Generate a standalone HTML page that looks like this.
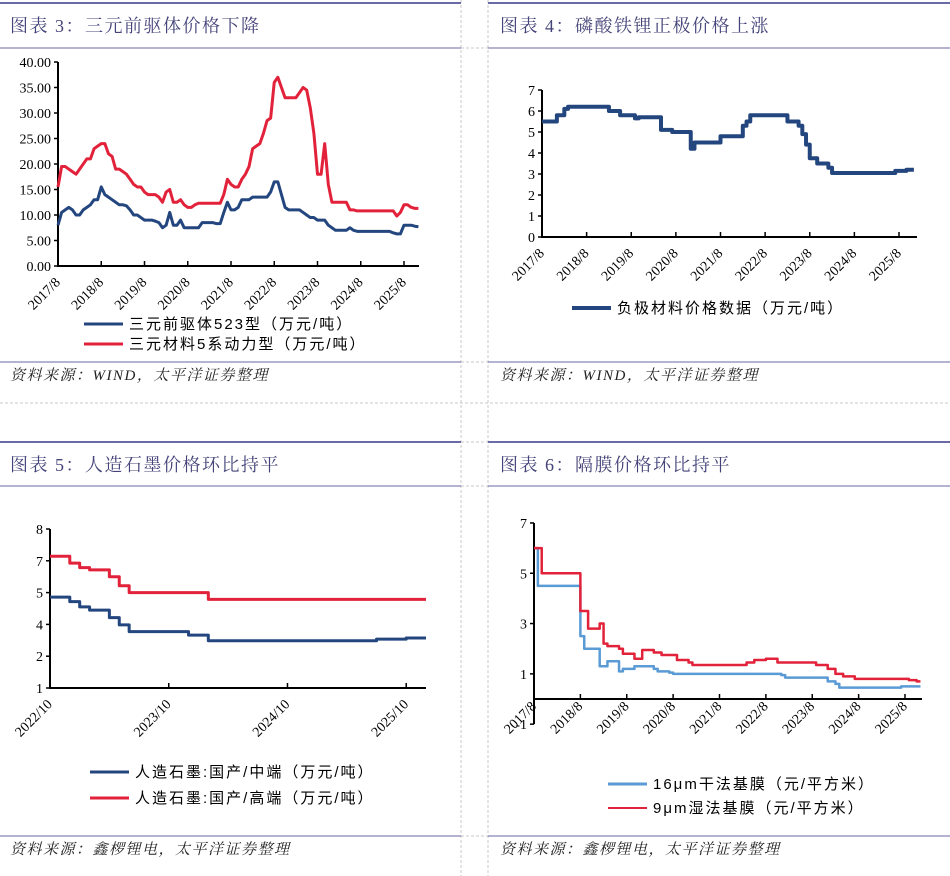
<!DOCTYPE html>
<html><head><meta charset="utf-8"><style>
body{margin:0;background:#fff;}
svg{display:block;font-family:"Liberation Serif","Noto Serif CJK SC",serif;}
.ttl{font-family:"Liberation Serif","Noto Serif CJK SC",serif;font-size:18px;letter-spacing:1.5px;fill:#44447a;}
.src{font-family:"Liberation Serif","Noto Serif CJK SC",serif;font-size:15px;letter-spacing:1.5px;font-style:italic;fill:#222;}
.tk{font-size:14px;fill:#000;}
.lg{font-family:"Liberation Sans","Noto Sans CJK SC",sans-serif;font-size:15px;letter-spacing:2px;fill:#000;}
</style></head><body>
<svg id="s" width="950" height="876" viewBox="0 0 950 876" xmlns="http://www.w3.org/2000/svg">
<g stroke-width="1">
<line x1="461" y1="0" x2="461" y2="876" stroke="#c8c8c8" stroke-dasharray="3,2"/>
<line x1="488" y1="0" x2="488" y2="876" stroke="#c8c8c8" stroke-dasharray="3,2"/>
<line x1="0" y1="403" x2="950" y2="403" stroke="#c8c8c8" stroke-dasharray="3,2"/>
<line x1="461" y1="48" x2="488" y2="48" stroke="#c8c8c8" stroke-dasharray="3,2"/>
<line x1="461" y1="362" x2="488" y2="362" stroke="#c8c8c8" stroke-dasharray="3,2"/>
<line x1="461" y1="442" x2="488" y2="442" stroke="#c8c8c8" stroke-dasharray="3,2"/>
<line x1="461" y1="486" x2="488" y2="486" stroke="#c8c8c8" stroke-dasharray="3,2"/>
<line x1="461" y1="836" x2="488" y2="836" stroke="#c8c8c8" stroke-dasharray="3,2"/>
<line x1="0" y1="3" x2="461" y2="3" stroke="#6a6aa6" stroke-width="2"/>
<line x1="488" y1="3" x2="950" y2="3" stroke="#6a6aa6" stroke-width="2"/>
<line x1="0" y1="48" x2="461" y2="48" stroke="#6a6aa6"/>
<line x1="488" y1="48" x2="950" y2="48" stroke="#6a6aa6"/>
<line x1="0" y1="362" x2="461" y2="362" stroke="#6a6aa6"/>
<line x1="488" y1="362" x2="950" y2="362" stroke="#6a6aa6"/>
<line x1="0" y1="442" x2="461" y2="442" stroke="#6a6aa6" stroke-width="2"/>
<line x1="488" y1="442" x2="950" y2="442" stroke="#6a6aa6" stroke-width="2"/>
<line x1="0" y1="486" x2="461" y2="486" stroke="#6a6aa6"/>
<line x1="488" y1="486" x2="950" y2="486" stroke="#6a6aa6"/>
<line x1="0" y1="836" x2="461" y2="836" stroke="#6a6aa6"/>
<line x1="488" y1="836" x2="950" y2="836" stroke="#6a6aa6"/>
</g>
<text class="ttl" x="10" y="32">图表 3：三元前驱体价格下降</text>
<text class="ttl" x="500" y="32">图表 4：磷酸铁锂正极价格上涨</text>
<text class="ttl" x="10" y="471">图表 5：人造石墨价格环比持平</text>
<text class="ttl" x="500" y="471">图表 6：隔膜价格环比持平</text>
<text class="src" x="10" y="380">资料来源：WIND，太平洋证券整理</text>
<text class="src" x="500" y="380">资料来源：WIND，太平洋证券整理</text>
<text class="src" x="10" y="854">资料来源：鑫椤锂电，太平洋证券整理</text>
<text class="src" x="500" y="854">资料来源：鑫椤锂电，太平洋证券整理</text>
<g id="c3"></g>
<g id="c4"></g>
<g id="c5"></g>
<g id="c6"></g>
</svg>
<script>
// ---- Chart 3 data (monthly from 2017/8) ----
const c3Ticks = ["2017/8","2018/8","2019/8","2020/8","2021/8","2022/8","2023/8","2024/8","2025/8"];
const c3YTicks = ["0.00","5.00","10.00","15.00","20.00","25.00","30.00","35.00","40.00"];
const c3Precursor = [8,10.5,11,11.5,11,
 10,10,11,11.5,12,13,13,15.5,14,13.5,13,12.5,
 12,12,11.8,11,10,10,9.5,9,9,9,8.8,8.5,
 7.5,8,10.5,8,8,9,7.5,7.5,7.5,7.5,7.5,8.5,
 8.5,8.5,8.5,8.3,8.3,10.5,12.5,11,11,11.5,13,13,
 13,13.5,13.5,13.5,13.5,13.5,14.5,16.5,16.5,14,11.5,11,
 11,11,11,10.5,10,9.5,9.5,9,9,9,8,7.5,
 7,7,7,7,7.5,7,6.8,6.8,6.8,6.8,6.8,6.8,
 6.8,6.8,6.8,6.8,6.5,6.3,6.3,8,8,8,7.8,7.7];
const c3Cathode = [15.5,19.5,19.5,19,18.5,
 18,19,20,21,21,23,23.5,24,24,22,21.5,19,
 19,18.5,18,17,16,15.5,15.5,14.5,14,14,14,13.5,
 12.5,14.5,15,12.5,12.5,13,12,11.5,11.5,12,12.3,12.3,
 12.3,12.3,12.3,12.3,12.3,14,17,16,15.5,15.5,17,18,
 19.5,23,23.5,24,26,28.5,29,36,37,35,33,33,
 33,33,34,35,34.5,31,26,18,18,24,16,12.5,
 12.5,12.5,12.5,12.5,11,11,10.8,10.8,10.8,10.8,10.8,10.8,
 10.8,10.8,10.8,10.8,10.8,9.8,10.5,12,12,11.5,11.3,11.3];
// ---- Chart 4 data (monthly from 2017/8) ----
const c4Ticks = ["2017/8","2018/8","2019/8","2020/8","2021/8","2022/8","2023/8","2024/8","2025/8"];
const c4YTicks = ["0","1","2","3","4","5","6","7"];
const c4Lfp = [5.5,5.5,5.5,5.5,5.8,5.8,6.1,
 6.2,6.2,6.2,6.2,6.2,6.2,6.2,6.2,6.2,6.2,6.2,
 6.0,6.0,6.0,5.8,5.8,5.8,5.8,5.65,5.7,5.7,5.7,5.7,5.7,5.7,
 5.1,5.1,5.1,5.0,5.0,5.0,5.0,5.0,4.2,4.5,4.5,4.5,4.5,4.5,4.5,4.5,
 4.8,4.8,4.8,4.8,4.8,4.8,5.3,5.5,5.8,5.8,5.8,5.8,5.8,5.8,5.8,5.8,5.8,5.8,
 5.5,5.5,5.5,5.3,4.9,4.4,3.75,3.75,3.5,3.5,3.5,3.3,
 3.05,3.05,3.05,3.05,3.05,3.05,3.05,3.05,3.05,3.05,3.05,3.05,3.05,3.05,3.05,3.05,3.05,
 3.15,3.15,3.15,3.2,3.2,3.2];
// ---- Chart 5 data (monthly from 2022/10) ----
const c5Ticks = ["2022/10","2023/10","2024/10","2025/10"];
const c5YTicks = ["1","2","4","5","7","8"];
const c5Mid = [5.0,5.0,4.8,4.57,4.43,4.43,4.1,3.78,3.48,3.48,3.48,3.48,3.48,3.48,3.33,3.33,
 3.08,3.08,3.08,3.08,3.08,3.08,3.08,3.08,3.08,3.08,3.08,3.08,3.08,3.08,3.08,3.08,3.08,
 3.15,3.15,3.15,3.2,3.2,3.2];
const c5High = [6.8,6.8,6.5,6.3,6.2,6.2,5.9,5.5,5.2,5.2,5.2,5.2,5.2,5.2,5.2,5.2,
 4.9,4.9,4.9,4.9,4.9,4.9,4.9,4.9,4.9,4.9,4.9,4.9,4.9,4.9,4.9,4.9,4.9,4.9,4.9,4.9,4.9,4.9,4.9];
// ---- Chart 6 data (monthly from 2017/8) ----
const c6Ticks = ["2017/8","2018/8","2019/8","2020/8","2021/8","2022/8","2023/8","2024/8","2025/8"];
const c6YTicks = ["-1","1","3","5","7"];
const c6Dry = [6,4.5,4.5,4.5,4.5,4.5,4.5,4.5,4.5,4.5,4.5,4.5,
 2.5,2.0,2.0,2.0,2.0,1.3,1.3,1.5,1.5,1.5,1.1,1.2,1.2,1.2,1.3,1.3,1.3,1.3,1.3,1.2,1.1,1.1,1.1,1.05,
 1.0,1.0,1.0,1.0,1.0,1.0,1.0,1.0,1.0,1.0,1.0,1.0,1.0,1.0,1.0,1.0,1.0,1.0,1.0,1.0,1.0,1.0,1.0,1.0,1.0,1.0,1.0,1.0,
 0.95,0.85,0.85,0.85,0.85,0.85,0.85,0.85,0.85,0.85,0.85,0.85,0.7,0.7,0.6,
 0.45,0.45,0.45,0.45,0.45,0.45,0.45,0.45,0.45,0.45,0.45,0.45,0.45,0.45,0.45,0.45,
 0.5,0.5,0.5,0.5,0.5,0.5];
const c6Wet = [6,6,5,5,5,5,5,5,5,5,5,5,
 3.5,3.5,2.8,2.8,2.8,3.0,2.2,2.1,2.1,2.1,2.0,1.8,1.8,1.8,1.6,1.6,1.95,1.95,1.95,1.85,1.85,1.75,1.75,1.75,1.75,
 1.55,1.55,1.55,1.45,1.35,1.35,1.35,1.35,1.35,1.35,1.35,1.35,1.35,1.35,1.35,1.35,1.35,1.35,1.45,1.45,
 1.55,1.55,1.55,1.6,1.6,1.6,1.45,1.45,1.45,1.45,1.45,1.45,1.45,1.45,1.45,1.45,
 1.35,1.35,1.35,1.2,1.2,1.0,1.0,0.9,0.9,0.9,
 0.8,0.8,0.8,0.8,0.8,0.8,0.8,0.8,0.8,0.8,0.8,0.8,0.8,0.8,0.75,0.75,0.7,0.7];

const NS="http://www.w3.org/2000/svg";
function mk(parent,tag,attrs){const e=document.createElementNS(NS,tag);for(const k in attrs)e.setAttribute(k,attrs[k]);parent.appendChild(e);return e;}

function axes(g,o){
  const ya=mk(g,"line",{x1:o.x0,y1:o.yTop,x2:o.x0,y2:o.yBot,stroke:"#000","stroke-width":2});
  
  
  const xa=mk(g,"line",{x1:o.x0-1,y1:o.xAxisY,x2:o.x1,y2:o.xAxisY,stroke:"#000","stroke-width":2});
  
  
  o.yLabels.forEach((lab,i)=>{
    const y=o.yPos(i);
    mk(g,"line",{x1:o.x0-4,y1:y,x2:o.x0,y2:y,stroke:"#000","stroke-width":1.5});
    const t=mk(g,"text",{x:o.x0-7,y:y+5,"text-anchor":"end",class:"tk"});
    t.textContent=lab;
    
    
  });
  o.xLabels.forEach((lab,i)=>{
    const x=o.xPos(i);
    mk(g,"line",{x1:x,y1:o.xAxisY,x2:x,y2:o.xAxisY-5,stroke:"#000","stroke-width":1.5});
    const t=mk(g,"text",{x:0,y:0,"text-anchor":"end",class:"tk",transform:`translate(${x+3},${o.xAxisY+o.lblDy}) rotate(-45)`});
    t.textContent=lab;
    
    
  });
}
function series(g,vals,xf,yf,color,w,step,name){
  let d="";
  vals.forEach((v,i)=>{
    const x=xf(i),y=yf(v);
    if(i===0)d+=`M${x},${y}`;
    else if(step)d+=`H${x}V${y}`;
    else d+=`L${x},${y}`;
  });
  const p=mk(g,"path",{d:d,fill:"none",stroke:color,"stroke-width":w,"stroke-linejoin":"round"});
  
  
}
function legend(g,x,y,color,w,label,name){
  mk(g,"line",{x1:x,y1:y,x2:x+39,y2:y,stroke:color,"stroke-width":w});
  const t=mk(g,"text",{x:x+45,y:y+5,class:"lg"});
  t.textContent=label;
  
  
}
const BLUE="#24467f",RED="#e2223a",LBLUE="#5b9bd5";

// Chart 3
(function(){
  const g=document.getElementById("c3");
  const x0=58,x1=419,y0=266,pxU=5.1,pxM=(404-58)/96;
  const xf=i=>x0+i*pxM, yf=v=>y0-v*pxU;
  axes(g,{x0,x1,yTop:62,yBot:y0,xAxisY:y0,yLabels:c3YTicks,yPos:i=>yf(+c3YTicks[i]),xLabels:c3Ticks,xPos:i=>xf(i*12),lblDy:17});
  series(g,c3Precursor,xf,yf,BLUE,3,false,"precursor-523-line");
  series(g,c3Cathode,xf,yf,RED,3,false,"cathode-5-line");
  legend(g,84,324,BLUE,3,"三元前驱体523型（万元/吨）","legend-precursor");
  legend(g,84,344,RED,3,"三元材料5系动力型（万元/吨）","legend-cathode");
})();
// Chart 4
(function(){
  const g=document.getElementById("c4");
  const x0=542,x1=917,y0=237,pxU=21,pxM=(899-542)/96;
  const xf=i=>x0+i*pxM, yf=v=>y0-v*pxU;
  axes(g,{x0,x1,yTop:90,yBot:y0,xAxisY:y0,yLabels:c4YTicks,yPos:i=>yf(+c4YTicks[i]),xLabels:c4Ticks,xPos:i=>xf(i*12),lblDy:17});
  series(g,c4Lfp,xf,yf,BLUE,4,true,"lfp-price-line");
  legend(g,572,308,BLUE,4,"负极材料价格数据（万元/吨）","legend-lfp");
})();
// Chart 5
(function(){
  const g=document.getElementById("c5");
  const x0=50,x1=426,yTop=529,yBot=688,pxM=(426-50)/38;
  const pxU=(yBot-yTop)/7;
  const xf=i=>x0+i*pxM, yf=v=>yBot-(v-1)*pxU;
  axes(g,{x0,x1,yTop,yBot,xAxisY:yBot,yLabels:c5YTicks,yPos:i=>yBot-i*(yBot-yTop)/5,xLabels:c5Ticks,xPos:i=>xf(i*12),lblDy:17});
  series(g,c5Mid,xf,yf,BLUE,3,true,"graphite-mid-line");
  series(g,c5High,xf,yf,RED,3,true,"graphite-high-line");
  legend(g,90,772,BLUE,3,"人造石墨:国产/中端（万元/吨）","legend-graphite-mid");
  legend(g,90,798,RED,3,"人造石墨:国产/高端（万元/吨）","legend-graphite-high");
})();
// Chart 6
(function(){
  const g=document.getElementById("c6");
  const x0=534,x1=922,y0=699,pxU=25.15,pxM=(905-534)/96;
  const xf=i=>x0+i*pxM, yf=v=>y0-v*pxU;
  axes(g,{x0,x1,yTop:yf(7),yBot:yf(-1),xAxisY:y0,yLabels:c6YTicks,yPos:i=>yf(+c6YTicks[i]),xLabels:c6Ticks,xPos:i=>xf(i*12),lblDy:8});
  series(g,c6Dry,xf,yf,LBLUE,2.5,true,"dry-16um-line");
  series(g,c6Wet,xf,yf,RED,2.5,true,"wet-9um-line");
  legend(g,608,784,LBLUE,3,"16μm干法基膜（元/平方米）","legend-dry");
  legend(g,608,808,RED,2,"9μm湿法基膜（元/平方米）","legend-wet");
})();
</script>
</body></html>
